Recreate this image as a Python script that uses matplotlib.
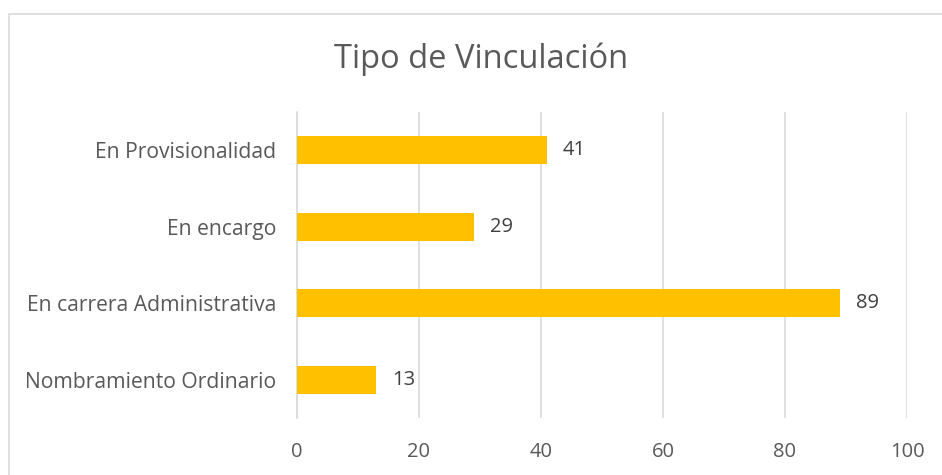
import matplotlib
matplotlib.use('Agg')
import matplotlib.pyplot as plt
from matplotlib.patches import Rectangle

plt.rcParams['font.family'] = ['Open Sans', 'DejaVu Sans']

categorias = ['Nombramiento Ordinario', 'En carrera Administrativa', 'En encargo', 'En Provisionalidad']
valores = [13, 89, 29, 41]
ticks_x = [0, 20, 40, 60, 80, 100]

gris_texto = '#595959'
gris_linea = '#d9d9d9'

fig = plt.figure(figsize=(9.42, 4.75), dpi=100)
# marco del grafico
fig.patches.append(Rectangle((9 / 942, -0.1), 940 / 942, (475 - 14) / 475 + 0.1,
                             transform=fig.transFigure, fill=False,
                             edgecolor=gris_linea, linewidth=1.2))

ax = fig.add_axes([297 / 942, (475 - 418) / 475, 610 / 942, 306 / 475])
pos = range(len(categorias))
ax.barh(pos, valores, height=0.36, color='#FFC000', zorder=3)
for p, v in zip(pos, valores):
    ax.text(v + 2.6, p, str(v), va='center', ha='left', fontsize=14.5, color='#404040')

ax.set_xlim(0, 100)
ax.set_ylim(-0.5, len(categorias) - 0.5)
ax.set_xticks(ticks_x)
ax.set_yticks(list(pos))
ax.set_yticklabels(categorias)
ax.tick_params(axis='both', length=0, colors=gris_texto)
ax.tick_params(axis='x', pad=17.5, labelsize=14.5)
ax.tick_params(axis='y', pad=15, labelsize=15.2)
ax.grid(axis='x', color=gris_linea, linewidth=1.2, zorder=0)
for s in ['top', 'right', 'bottom']:
    ax.spines[s].set_visible(False)
ax.spines['left'].set_color(gris_linea)
ax.spines['left'].set_linewidth(1.2)

fig.text(481 / 942, 1 - 59 / 475, 'Tipo de Vinculación', ha='center', va='center',
         fontsize=23.5, color=gris_texto)

fig.savefig('out.png', dpi=100)
